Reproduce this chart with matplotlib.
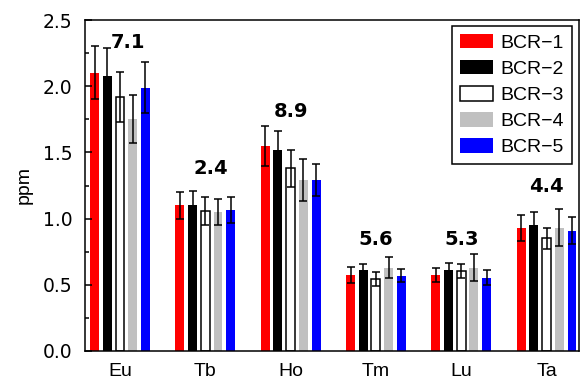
import numpy as np
import matplotlib
matplotlib.use('Agg')
import matplotlib.pyplot as plt
from matplotlib.ticker import MultipleLocator, FormatStrFormatter

elements = ['Eu', 'Tb', 'Ho', 'Tm', 'Lu', 'Ta']
samples = ['BCR\u22121', 'BCR\u22122', 'BCR\u22123', 'BCR\u22124', 'BCR\u22125']

# mean values (ppm), one list per sample
bcr1 = [2.10, 1.10, 1.55, 0.575, 0.575, 0.93]
bcr2 = [2.08, 1.10, 1.52, 0.61, 0.61, 0.955]
bcr3 = [1.92, 1.055, 1.38, 0.545, 0.605, 0.85]
bcr4 = [1.75, 1.05, 1.29, 0.63, 0.63, 0.93]
bcr5 = [1.99, 1.065, 1.29, 0.57, 0.555, 0.91]

# error bar half-widths
err1 = [0.20, 0.10, 0.15, 0.06, 0.055, 0.10]
err2 = [0.21, 0.11, 0.14, 0.05, 0.055, 0.095]
err3 = [0.19, 0.105, 0.14, 0.055, 0.055, 0.08]
err4 = [0.18, 0.10, 0.16, 0.08, 0.10, 0.14]
err5 = [0.19, 0.10, 0.12, 0.05, 0.06, 0.10]

# numbers printed above each group and their heights
label_text = ['7.1', '2.4', '8.9', '5.6', '5.3', '4.4']
label_y = [2.33, 1.38, 1.81, 0.84, 0.84, 1.24]

means = [bcr1, bcr2, bcr3, bcr4, bcr5]
errs = [err1, err2, err3, err4, err5]
face = ['#ff0000', '#000000', '#ffffff', '#c0c0c0', '#0000ff']
edge = ['none', 'none', '#000000', 'none', 'none']
label_dx = [0.094, 0.06, 0, 0, 0, 0]

fig = plt.figure(figsize=(5.81, 3.80), dpi=100)
ax = fig.add_axes([85 / 581, 29 / 380, 494 / 581, 331 / 380])

x = np.arange(len(elements))
pitch = 0.149
width = 0.105
for i in range(len(samples)):
    ax.bar(x + (i - 2) * pitch, means[i], width, color=face[i],
           edgecolor=edge[i], linewidth=1.1, label=samples[i],
           yerr=errs[i], capsize=2.6,
           error_kw=dict(ecolor='black', elinewidth=1.1, capthick=1.1))

for k in range(len(elements)):
    ax.text(x[k] + label_dx[k], label_y[k], label_text[k], ha='center',
            va='center', fontsize=14, fontweight='bold', family='DejaVu Sans')

ax.set_xlim(-0.41, 5.38)
ax.set_ylim(0, 2.5)
ax.set_xticks(x)
ax.set_xticklabels(elements, fontsize=14, family='Liberation Sans')
ax.yaxis.set_major_locator(MultipleLocator(0.5))
ax.yaxis.set_minor_locator(MultipleLocator(0.25))
ax.yaxis.set_major_formatter(FormatStrFormatter('%.1f'))
for t in ax.get_yticklabels():
    t.set_family('DejaVu Sans')
ax.tick_params(axis='y', which='major', direction='in', length=5, width=1.1,
               pad=9, labelsize=13.5)
ax.tick_params(axis='y', which='minor', direction='in', length=3, width=1.1)
ax.tick_params(axis='x', length=0, pad=9)
ax.set_ylabel('ppm', fontsize=14, family='Liberation Sans', labelpad=7)
for s in ax.spines.values():
    s.set_linewidth(1.1)

leg = ax.legend(loc='upper right', bbox_to_anchor=(0.986, 0.982),
                borderaxespad=0, fancybox=False, edgecolor='black',
                framealpha=1, prop={'family': 'Liberation Sans', 'size': 14},
                handlelength=1.7, handleheight=0.77, handletextpad=0.4,
                labelspacing=0.42, borderpad=0.4)
leg.get_frame().set_linewidth(1.1)

plt.savefig('out.png', dpi=100)
